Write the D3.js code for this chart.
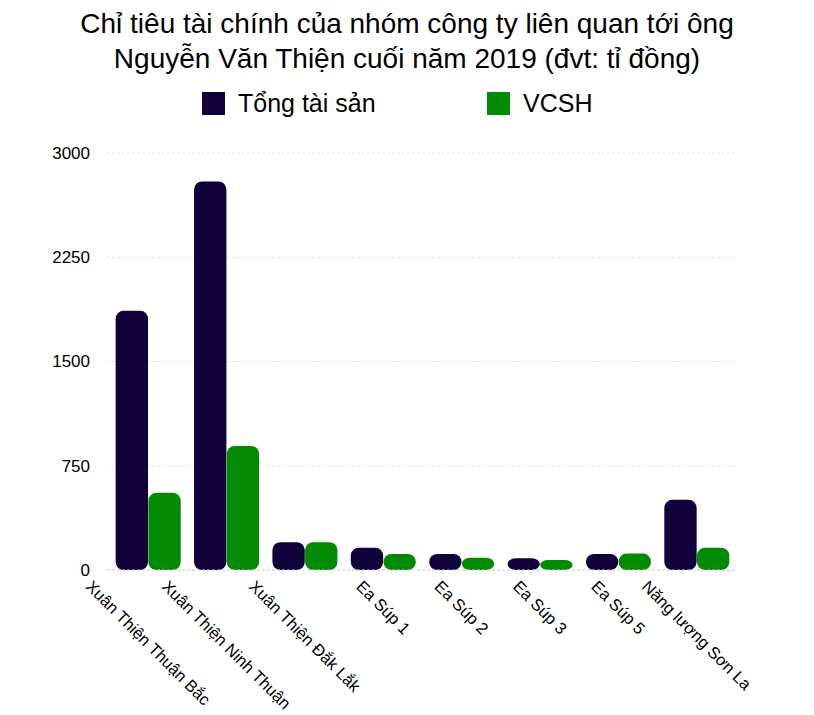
<!DOCTYPE html>
<html>
<head>
<meta charset="utf-8">
<script src="https://cdn.jsdelivr.net/npm/d3@7"></script>
<style>
  body { margin: 0; background: #fff; }
  text { font-family: "Liberation Sans", Arial, sans-serif; }
</style>
</head>
<body>
<div id="chart"></div>
<script>
// data (tỉ đồng)
const companies = [
  "Xuân Thiện Thuận Bắc",
  "Xuân Thiện Ninh Thuận",
  "Xuân Thiện Đắk Lắk",
  "Ea Súp 1",
  "Ea Súp 2",
  "Ea Súp 3",
  "Ea Súp 5",
  "Năng lượng Sơn La"
];
const tongTaiSan = [1865, 2795, 200, 160, 115, 85, 115, 505];
const vcsh = [555, 892, 200, 115, 88, 72, 118, 160];
const seriesNames = ["Tổng tài sản", "VCSH"];
const seriesColors = ["#12023b", "#028a02"];
const yTicks = [0, 750, 1500, 2250, 3000];
const titleLines = [
  "Chỉ tiêu tài chính của nhóm công ty liên quan tới ông",
  "Nguyễn Văn Thiện cuối năm 2019 (đvt: tỉ đồng)"
];

const W = 814, H = 715;
const plot = { left: 109, right: 736, top: 153, bottom: 570 };

const svg = d3.select("#chart").append("svg")
  .attr("width", W)
  .attr("height", H);

svg.append("rect").attr("width", W).attr("height", H).attr("fill", "#fff");

// title
svg.append("g").selectAll("text")
  .data(titleLines)
  .enter().append("text")
  .attr("x", W / 2)
  .attr("y", (d, i) => 33 + i * 35)
  .attr("text-anchor", "middle")
  .attr("font-size", 28)
  .attr("fill", "#000")
  .text(d => d);

// legend
const legendX = [202, 487];
const legend = svg.append("g").selectAll("g")
  .data(seriesNames)
  .enter().append("g")
  .attr("transform", (d, i) => `translate(${legendX[i]},92)`);
legend.append("rect")
  .attr("width", 23).attr("height", 23)
  .attr("fill", (d, i) => seriesColors[i]);
legend.append("text")
  .attr("x", 36).attr("y", 20)
  .attr("font-size", 25)
  .text(d => d);

// scales
const x = d3.scaleBand()
  .domain(companies)
  .range([plot.left, plot.right])
  .paddingInner(0.17)
  .paddingOuter(0.085);

const xSub = d3.scaleBand()
  .domain(seriesNames)
  .range([0, x.bandwidth()])
  .paddingInner(0.01);

const y = d3.scaleLinear()
  .domain([0, 3000])
  .range([plot.bottom, plot.top]);

// gridlines
svg.append("g").selectAll("line")
  .data(yTicks.filter(t => t > 0))
  .enter().append("line")
  .attr("x1", plot.left - 2).attr("x2", plot.right)
  .attr("y1", d => y(d)).attr("y2", d => y(d))
  .attr("stroke", "#e6e6e6")
  .attr("stroke-dasharray", "3,2");

// y axis labels
const yAxis = svg.append("g")
  .attr("transform", `translate(90,0)`)
  .call(d3.axisLeft(y).tickValues(yTicks).tickSize(0).tickPadding(0).tickFormat(d3.format("d")));
yAxis.select(".domain").remove();
yAxis.selectAll("text")
  .attr("font-size", 17)
  .attr("fill", "#000")
  .attr("font-family", "Liberation Sans, Arial, sans-serif");

// bars
const rows = companies.map((c, i) => ({ name: c, values: [tongTaiSan[i], vcsh[i]] }));
const groups = svg.append("g").selectAll("g")
  .data(rows)
  .enter().append("g")
  .attr("transform", d => `translate(${x(d.name)},0)`);

groups.selectAll("rect")
  .data(d => d.values.map((v, i) => ({ key: seriesNames[i], value: v, i })))
  .enter().append("rect")
  .attr("x", d => xSub(d.key))
  .attr("y", d => y(d.value))
  .attr("width", xSub.bandwidth())
  .attr("height", d => y(0) - y(d.value))
  .attr("rx", 8)
  .attr("ry", d => Math.min(8, (y(0) - y(d.value)) / 2))
  .attr("fill", d => seriesColors[d.i]);

// zero line
svg.append("line")
  .attr("x1", plot.left - 2).attr("x2", plot.right)
  .attr("y1", y(0)).attr("y2", y(0))
  .attr("stroke", "#c8c8c8")
  .attr("stroke-dasharray", "3,2");

// rotated category labels, rotated box centred under each group
const fs = 16.5;
const labels = svg.append("g").selectAll("text")
  .data(companies)
  .enter().append("text")
  .attr("font-size", fs)
  .attr("fill", "#000")
  .text(d => d);

labels.each(function (d) {
  const w = this.getComputedTextLength();
  const k = Math.SQRT1_2;
  const cx = x(d) + x.bandwidth() / 2;
  const asc = fs * 0.9, desc = fs * 0.2;
  const tx = cx - (w + asc + desc) * k / 2 + desc * k;
  const ty = 577 + asc * k;
  d3.select(this).attr("transform", `translate(${tx},${ty}) rotate(45)`);
});
</script>
</body>
</html>
